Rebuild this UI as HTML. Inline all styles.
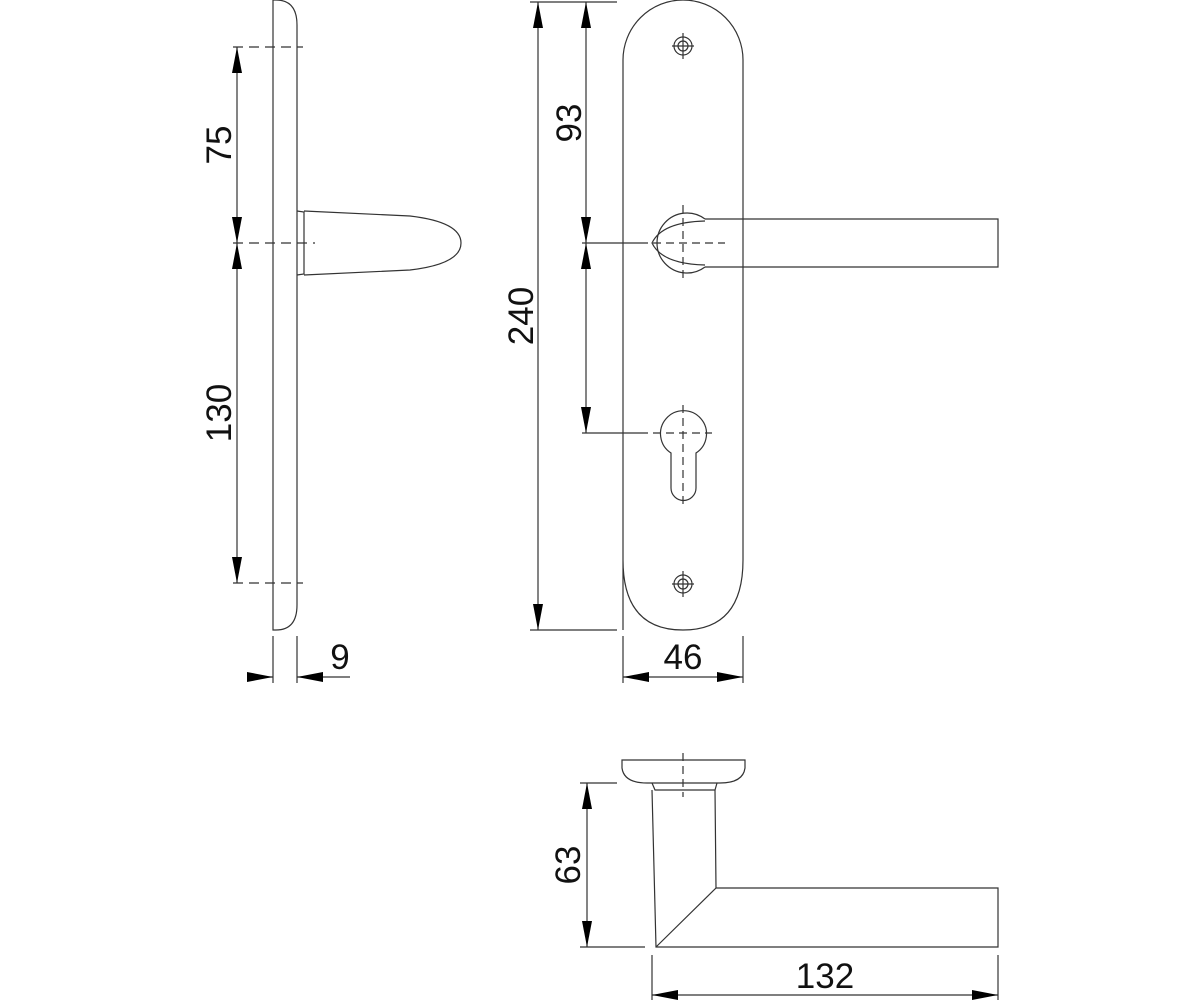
<!DOCTYPE html>
<html><head><style>body{margin:0;background:#fff}svg{display:block}text{font-family:"Liberation Sans",sans-serif;font-size:35px;fill:#111}</style></head>
<body>
<svg width="1200" height="1000" viewBox="0 0 1200 1000" xmlns="http://www.w3.org/2000/svg">
<defs>
<marker id="b" viewBox="0 0 26 10" refX="26" refY="5" markerWidth="26" markerHeight="10" markerUnits="userSpaceOnUse" orient="auto-start-reverse"><path d="M0,0 L26,5 L0,10z" fill="#000"/></marker>
</defs>
<g fill="none" stroke="#333" stroke-width="1.2">
<path d="M273,630 L273,0 L276,0 Q297,0 297,25 L297,605 Q297,630 276,630 Z"/>
<path d="M297,211 L304,212 L304,274 L297,275"/>
<path d="M304,211 L410,216 Q461,222 461,243 Q461,264 410,270 L304,275"/>
<g stroke-dasharray="10,6"><line x1="233" y1="47" x2="303" y2="47"/><line x1="233" y1="243" x2="315" y2="243"/><line x1="233" y1="583" x2="303" y2="583"/></g>
<line x1="237" y1="47" x2="237" y2="243" marker-start="url(#b)" marker-end="url(#b)"/>
<line x1="237" y1="243" x2="237" y2="583" marker-start="url(#b)" marker-end="url(#b)"/>
<line x1="273" y1="636" x2="273" y2="683"/><line x1="297" y1="636" x2="297" y2="683"/>
<line x1="247" y1="677" x2="273" y2="677" marker-end="url(#b)"/>
<line x1="350" y1="677" x2="297" y2="677" marker-end="url(#b)"/>
<path d="M623,630 L623,60 A60,60 0 0 1 743,60 L743,560 Q743,630 683,630 Q623,630 623,560 Z"/>
<circle cx="683" cy="46" r="9"/><circle cx="683" cy="46" r="5"/><line x1="672" y1="46" x2="694" y2="46"/><line x1="683" y1="33" x2="683" y2="59"/>
<circle cx="683" cy="584" r="9"/><circle cx="683" cy="584" r="5"/><line x1="672" y1="584" x2="694" y2="584"/><line x1="683" y1="571" x2="683" y2="597"/>
<path d="M705,219 A30,30 0 1 0 705,267"/>
<path d="M705,221 Q662,222 652,243 Q662,264 705,265"/>
<path d="M705,219 L998,219 L998,267 L705,267"/>
<g stroke-dasharray="8,5"><line x1="683" y1="205" x2="683" y2="282"/><line x1="640" y1="243" x2="725" y2="243"/><line x1="683" y1="405" x2="683" y2="505"/><line x1="640" y1="433" x2="712" y2="433"/></g>
<path d="M671,453 A23,23 0 1 1 696,453 L696,488 A12.5,12.5 0 0 1 671,488 Z"/>
<line x1="530" y1="2" x2="617" y2="2"/><line x1="530" y1="630" x2="617" y2="630"/>
<line x1="538" y1="2" x2="538" y2="630" marker-start="url(#b)" marker-end="url(#b)"/>
<line x1="582" y1="243" x2="640" y2="243"/><line x1="582" y1="433" x2="640" y2="433"/>
<line x1="586" y1="2" x2="586" y2="243" marker-start="url(#b)" marker-end="url(#b)"/>
<line x1="586" y1="243" x2="586" y2="433" marker-start="url(#b)" marker-end="url(#b)"/>
<line x1="623" y1="636" x2="623" y2="683"/><line x1="743" y1="636" x2="743" y2="683"/>
<line x1="623" y1="677" x2="743" y2="677" marker-start="url(#b)" marker-end="url(#b)"/>
<path d="M622,760 L745,760 L745,768 Q743,783 720,783 L647,783 Q624,783 622,768 Z"/>
<path d="M652,783 L655,790 L715,790 L717,783"/>
<line x1="683" y1="753" x2="683" y2="797" stroke-dasharray="8,5"/>
<path d="M652,790 L656,947 L998,947 L998,888 L716,888 L715,790"/>
<line x1="716" y1="888" x2="656" y2="947"/>
<line x1="580" y1="783" x2="617" y2="783"/><line x1="580" y1="947" x2="645" y2="947"/>
<line x1="587" y1="783" x2="587" y2="947" marker-start="url(#b)" marker-end="url(#b)"/>
<line x1="652" y1="955" x2="652" y2="1000"/><line x1="998" y1="955" x2="998" y2="1000"/>
<line x1="652" y1="995" x2="998" y2="995" marker-start="url(#b)" marker-end="url(#b)"/>
</g>
<text transform="translate(231,145) rotate(-90)" text-anchor="middle">75</text>
<text transform="translate(231,413) rotate(-90)" text-anchor="middle">130</text>
<text x="340" y="669" text-anchor="middle">9</text>
<text transform="translate(533,316) rotate(-90)" text-anchor="middle">240</text>
<text transform="translate(581,123) rotate(-90)" text-anchor="middle">93</text>
<text x="683" y="669" text-anchor="middle">46</text>
<text transform="translate(580,865) rotate(-90)" text-anchor="middle">63</text>
<text x="825" y="988" text-anchor="middle">132</text>
</svg>
</body></html>
